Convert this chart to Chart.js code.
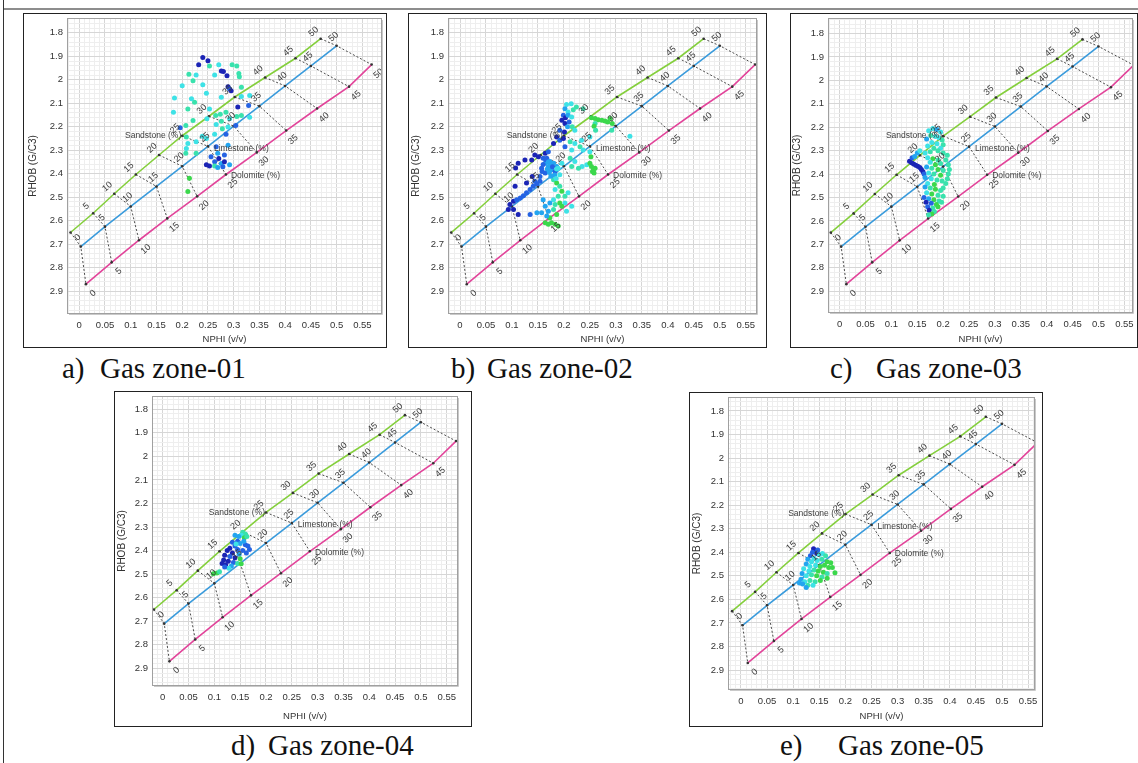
<!DOCTYPE html>
<html>
<head>
<meta charset="utf-8">
<script src="https://cdn.jsdelivr.net/npm/chart.js@4.4.1/dist/chart.umd.min.js"></script>
<style>
  body { margin: 0; width: 1138px; height: 763px; background: #fff; position: relative; overflow: hidden; }
  .rule { position: absolute; }
  .frame { position: absolute; box-sizing: border-box; border: 1px solid #222; background: #fff; overflow: hidden; }
  .frame canvas { position: absolute; left: 0; top: 0; }
  .cap { position: absolute; font-family: "Liberation Serif", "Times New Roman", serif; font-size: 29px; line-height: 29px; color: #111; white-space: nowrap; }
</style>
</head>
<body>
<div class="rule" style="left:3px;top:8px;width:1135px;height:2px;background:#8d8d8d"></div>
<div class="rule" style="left:3px;top:0;width:1px;height:763px;background:#333"></div>
<div id="page"></div>
<script>
// lithology overlay lines (porosity 0..50 %)
const porosityLabels = ['0', '5', '10', '15', '20', '25', '30', '35', '40', '45', '50'];
const sandNphi = [-0.017, 0.027, 0.068, 0.110, 0.155, 0.200, 0.252, 0.302, 0.361, 0.420, 0.469];
const sandRhob = [2.650, 2.568, 2.485, 2.403, 2.320, 2.238, 2.155, 2.073, 1.990, 1.908, 1.825];
const limeNphi = [0.003, 0.050, 0.100, 0.150, 0.200, 0.250, 0.300, 0.350, 0.400, 0.450, 0.500];
const limeRhob = [2.710, 2.625, 2.539, 2.454, 2.368, 2.283, 2.197, 2.112, 2.026, 1.941, 1.855];
const doloNphi = [0.013, 0.063, 0.116, 0.171, 0.229, 0.285, 0.345, 0.402, 0.462, 0.524, 0.568];
const doloRhob = [2.870, 2.777, 2.683, 2.590, 2.496, 2.403, 2.309, 2.216, 2.122, 2.029, 1.935];

// axis ticks
const xTicks = [0, 0.05, 0.1, 0.15, 0.2, 0.25, 0.3, 0.35, 0.4, 0.45, 0.5, 0.55];
const xTickLabels = ['0', '0.05', '0.1', '0.15', '0.2', '0.25', '0.3', '0.35', '0.4', '0.45', '0.5', '0.55'];
const yTicks = [1.8, 1.9, 2, 2.1, 2.2, 2.3, 2.4, 2.5, 2.6, 2.7, 2.8, 2.9];
const yTickLabels = ['1.8', '1.9', '2', '2.1', '2.2', '2.3', '2.4', '2.5', '2.6', '2.7', '2.8', '2.9'];

const captionLetters = ['a)', 'b)', 'c)', 'd)', 'e)'];
const zoneNames = ['Gas zone-01', 'Gas zone-02', 'Gas zone-03', 'Gas zone-04', 'Gas zone-05'];

// point colour classes: 0 dark blue, 1 blue, 2 sky, 3 cyan, 4 aqua, 5 green
const shadeColors = ['#1b24b5', '#2563e3', '#23a5f0', '#3ee2e6', '#39e2ad', '#3bd84c'];

const zone1Nphi = [0.240, 0.250, 0.232, 0.253, 0.271, 0.297, 0.306, 0.276, 0.280, 0.213,
  0.227, 0.263, 0.287, 0.310, 0.311, 0.200, 0.221, 0.240, 0.289, 0.292,
  0.315, 0.295, 0.185, 0.218, 0.247, 0.276, 0.315, 0.331, 0.308, 0.329,
  0.183, 0.211, 0.224, 0.253, 0.265, 0.274, 0.285, 0.306, 0.315, 0.331,
  0.221, 0.248, 0.276, 0.292, 0.304, 0.196, 0.207, 0.266, 0.278, 0.289,
  0.208, 0.211, 0.227, 0.239, 0.247, 0.263, 0.285, 0.207, 0.227, 0.266,
  0.269, 0.256, 0.271, 0.282, 0.263, 0.276, 0.282, 0.253, 0.263, 0.247,
  0.269, 0.279, 0.292, 0.214, 0.211, 0.208, 0.289];
const zone1Rhob = [1.905, 1.919, 1.936, 1.941, 1.936, 1.936, 1.941, 1.962, 1.965, 1.976,
  1.979, 1.979, 1.983, 1.973, 1.987, 2.025, 2.004, 2.021, 2.029, 2.039,
  2.032, 2.046, 2.077, 2.081, 2.057, 2.074, 2.071, 2.067, 2.116, 2.109,
  2.138, 2.124, 2.095, 2.124, 2.152, 2.147, 2.138, 2.156, 2.152, 2.159,
  2.173, 2.166, 2.176, 2.166, 2.194, 2.204, 2.194, 2.190, 2.208, 2.201,
  2.243, 2.271, 2.264, 2.240, 2.250, 2.232, 2.232, 2.313, 2.313, 2.285,
  2.313, 2.327, 2.335, 2.320, 2.349, 2.356, 2.349, 2.367, 2.367, 2.362,
  2.373, 2.370, 2.362, 2.419, 2.475, 2.292, 2.278];
const zone1Shade = [0, 0, 0, 4, 3, 4, 4, 0, 0, 4,
  3, 3, 0, 4, 4, 3, 4, 3, 0, 1,
  4, 0, 3, 3, 3, 3, 3, 3, 0, 1,
  3, 4, 4, 3, 4, 4, 4, 4, 4, 3,
  4, 3, 4, 3, 1, 1, 4, 3, 4, 3,
  4, 3, 3, 3, 3, 3, 1, 4, 4, 1,
  2, 1, 0, 1, 1, 2, 0, 0, 4, 0,
  2, 1, 2, 5, 5, 3, 2];

const zone2Nphi = [0.205, 0.214, 0.202, 0.208, 0.218, 0.224, 0.237, 0.199, 0.203, 0.208,
  0.215, 0.196, 0.202, 0.210, 0.207, 0.216, 0.192, 0.201, 0.221, 0.253,
  0.260, 0.266, 0.273, 0.279, 0.284, 0.289, 0.293, 0.260, 0.258, 0.261,
  0.250, 0.292, 0.327, 0.186, 0.192, 0.199, 0.180, 0.212, 0.221, 0.231,
  0.237, 0.215, 0.202, 0.234, 0.125, 0.112, 0.138, 0.144, 0.151, 0.164,
  0.170, 0.160, 0.167, 0.173, 0.180, 0.186, 0.164, 0.170, 0.176, 0.183,
  0.189, 0.196, 0.192, 0.164, 0.157, 0.154, 0.212, 0.221, 0.235, 0.244,
  0.228, 0.215, 0.250, 0.253, 0.257, 0.260, 0.255, 0.258, 0.252, 0.250,
  0.107, 0.139, 0.128, 0.106, 0.144, 0.103, 0.109, 0.116, 0.122, 0.128,
  0.135, 0.141, 0.148, 0.154, 0.096, 0.103, 0.112, 0.093, 0.180, 0.186,
  0.192, 0.183, 0.196, 0.189, 0.180, 0.173, 0.183, 0.192, 0.202, 0.208,
  0.202, 0.164, 0.170, 0.157, 0.180, 0.186, 0.173, 0.176, 0.170, 0.183,
  0.189, 0.164, 0.196, 0.205, 0.215, 0.167, 0.160, 0.148, 0.135, 0.165,
  0.170, 0.175, 0.168, 0.178, 0.172, 0.182, 0.186, 0.160, 0.158, 0.175, 0.185];
const zone2Rhob = [2.105, 2.102, 2.123, 2.137, 2.127, 2.116, 2.123, 2.151, 2.161, 2.151,
  2.158, 2.172, 2.186, 2.179, 2.200, 2.200, 2.215, 2.222, 2.215, 2.161,
  2.165, 2.170, 2.172, 2.175, 2.179, 2.165, 2.186, 2.186, 2.198, 2.215,
  2.243, 2.215, 2.240, 2.243, 2.257, 2.250, 2.271, 2.264, 2.271, 2.285,
  2.299, 2.299, 2.285, 2.257, 2.341, 2.355, 2.341, 2.320, 2.327, 2.313,
  2.306, 2.334, 2.334, 2.348, 2.355, 2.369, 2.355, 2.369, 2.383, 2.390,
  2.376, 2.355, 2.404, 2.397, 2.376, 2.411, 2.334, 2.348, 2.369, 2.362,
  2.376, 2.369, 2.355, 2.369, 2.383, 2.376, 2.390, 2.397, 2.327, 2.306,
  2.375, 2.411, 2.439, 2.453, 2.432, 2.517, 2.510, 2.503, 2.493, 2.481,
  2.467, 2.453, 2.442, 2.432, 2.531, 2.552, 2.573, 2.552, 2.425, 2.439,
  2.453, 2.467, 2.474, 2.496, 2.510, 2.524, 2.531, 2.524, 2.496, 2.481,
  2.524, 2.538, 2.559, 2.566, 2.552, 2.573, 2.587, 2.608, 2.615, 2.615,
  2.622, 2.608, 2.538, 2.559, 2.538, 2.580, 2.510, 2.566, 2.573, 2.340,
  2.350, 2.360, 2.380, 2.370, 2.395, 2.405, 2.380, 2.360, 2.390, 2.410, 2.420];
const zone2Shade = [3, 3, 2, 3, 4, 4, 4, 1, 0, 2,
  3, 0, 0, 1, 2, 4, 1, 0, 3, 5,
  5, 5, 5, 5, 5, 5, 5, 4, 5, 4,
  3, 4, 3, 0, 1, 0, 0, 4, 3, 4,
  3, 3, 1, 3, 0, 0, 0, 0, 0, 0,
  1, 1, 1, 2, 2, 2, 2, 2, 2, 1,
  3, 3, 3, 1, 1, 1, 4, 3, 3, 3,
  4, 4, 5, 5, 5, 5, 5, 5, 5, 3,
  0, 0, 0, 0, 1, 0, 1, 1, 1, 1,
  1, 1, 1, 1, 0, 0, 0, 0, 4, 5,
  4, 3, 5, 4, 3, 2, 4, 5, 4, 3,
  3, 2, 2, 2, 4, 5, 5, 5, 5, 5,
  5, 5, 5, 3, 3, 2, 2, 2, 1, 1,
  2, 2, 2, 1, 2, 2, 3, 1, 1, 2, 3];

const zone3Nphi = [0.172, 0.180, 0.188, 0.195, 0.176, 0.185, 0.192, 0.168, 0.198, 0.178, 0.188, 0.200, 0.170, 0.182, 0.195,
  0.135, 0.139, 0.143, 0.147, 0.151, 0.155, 0.158, 0.161, 0.163, 0.140, 0.145, 0.150, 0.155,
  0.165, 0.175, 0.190, 0.200, 0.208, 0.205, 0.210, 0.212, 0.210, 0.208, 0.205, 0.200, 0.170, 0.180, 0.190, 0.175, 0.185, 0.195,
  0.168, 0.178, 0.190, 0.200, 0.172, 0.182, 0.195, 0.165, 0.177, 0.188, 0.198, 0.170, 0.183,
  0.165, 0.175, 0.185, 0.195, 0.168, 0.178, 0.190, 0.200, 0.163, 0.172, 0.182, 0.192, 0.167, 0.177, 0.187, 0.197,
  0.170, 0.180, 0.190, 0.173, 0.183, 0.178, 0.172];
const zone3Rhob = [2.215, 2.205, 2.210, 2.220, 2.235, 2.240, 2.245, 2.250, 2.255, 2.265, 2.270, 2.275, 2.280, 2.290, 2.290,
  2.345, 2.352, 2.357, 2.362, 2.367, 2.372, 2.380, 2.390, 2.400, 2.330, 2.325, 2.310, 2.300,
  2.310, 2.305, 2.300, 2.310, 2.320, 2.340, 2.360, 2.380, 2.400, 2.420, 2.440, 2.460, 2.330, 2.335, 2.340, 2.350, 2.360, 2.355,
  2.370, 2.375, 2.380, 2.385, 2.395, 2.400, 2.405, 2.415, 2.420, 2.425, 2.430, 2.440, 2.445,
  2.455, 2.460, 2.465, 2.470, 2.480, 2.485, 2.490, 2.495, 2.500, 2.505, 2.510, 2.515, 2.520, 2.525, 2.530, 2.520,
  2.540, 2.545, 2.540, 2.555, 2.560, 2.570, 2.575];
const zone3Shade = [3, 3, 2, 3, 4, 3, 3, 2, 4, 3, 3, 4, 3, 4, 3,
  0, 0, 0, 0, 0, 0, 0, 0, 1, 1, 2, 2, 3,
  3, 4, 4, 4, 4, 4, 4, 4, 4, 4, 4, 4, 3, 5, 4, 3, 5, 4,
  2, 4, 5, 4, 3, 4, 5, 2, 3, 4, 4, 3, 5,
  2, 4, 5, 4, 3, 5, 4, 4, 1, 2, 5, 4, 0, 1, 5, 4,
  1, 4, 5, 0, 4, 5, 4];

const zone4Nphi = [0.155, 0.160, 0.152, 0.147, 0.140, 0.158, 0.163, 0.145, 0.135, 0.150,
  0.160, 0.165, 0.140, 0.130, 0.145, 0.155, 0.162, 0.125, 0.135, 0.148,
  0.120, 0.130, 0.140, 0.150, 0.118, 0.127, 0.137, 0.122, 0.133, 0.145,
  0.152, 0.128, 0.098, 0.105, 0.110, 0.142, 0.157, 0.168, 0.115, 0.120];
const zone4Rhob = [2.322, 2.330, 2.335, 2.340, 2.335, 2.345, 2.340, 2.360, 2.365, 2.370,
  2.375, 2.380, 2.380, 2.390, 2.395, 2.400, 2.410, 2.400, 2.410, 2.415,
  2.420, 2.425, 2.430, 2.435, 2.440, 2.445, 2.450, 2.460, 2.465, 2.455,
  2.456, 2.475, 2.498, 2.495, 2.490, 2.372, 2.360, 2.395, 2.455, 2.470];
const zone4Shade = [4, 4, 3, 2, 2, 5, 4, 1, 1, 2,
  1, 1, 1, 0, 1, 1, 1, 0, 0, 2,
  0, 1, 0, 5, 0, 0, 1, 0, 2, 4,
  5, 3, 5, 5, 4, 3, 2, 1, 0, 1];

const zone5Nphi = [0.139, 0.142, 0.145, 0.137, 0.147, 0.133, 0.150, 0.156, 0.162, 0.140,
  0.128, 0.135, 0.146, 0.155, 0.165, 0.172, 0.125, 0.132, 0.143, 0.152,
  0.160, 0.168, 0.175, 0.120, 0.130, 0.140, 0.148, 0.158, 0.165, 0.180,
  0.117, 0.125, 0.135, 0.145, 0.155, 0.165, 0.115, 0.122, 0.132, 0.142,
  0.152, 0.118, 0.128, 0.138, 0.112, 0.125];
const zone5Rhob = [2.385, 2.395, 2.405, 2.400, 2.390, 2.415, 2.410, 2.405, 2.415, 2.425,
  2.430, 2.440, 2.435, 2.430, 2.440, 2.445, 2.450, 2.460, 2.455, 2.460,
  2.455, 2.465, 2.465, 2.470, 2.480, 2.475, 2.480, 2.485, 2.490, 2.487,
  2.490, 2.500, 2.495, 2.500, 2.505, 2.510, 2.515, 2.525, 2.520, 2.525,
  2.520, 2.535, 2.540, 2.540, 2.530, 2.550];
const zone5Shade = [0, 0, 0, 1, 1, 1, 3, 3, 4, 3,
  2, 3, 3, 4, 5, 5, 2, 3, 3, 5,
  5, 5, 5, 3, 3, 4, 5, 5, 4, 5,
  2, 3, 4, 5, 4, 5, 2, 3, 4, 4,
  5, 2, 4, 3, 2, 2];

const zones = [
  { nphi: zone1Nphi, rhob: zone1Rhob, shade: zone1Shade },
  { nphi: zone2Nphi, rhob: zone2Rhob, shade: zone2Shade },
  { nphi: zone3Nphi, rhob: zone3Rhob, shade: zone3Shade },
  { nphi: zone4Nphi, rhob: zone4Rhob, shade: zone4Shade },
  { nphi: zone5Nphi, rhob: zone5Rhob, shade: zone5Shade }
];

// page layout: frame [left, top, width, height], plot area inside canvas [left, top, right, bottom]
const panelLayout = [
  { frame: [23, 13, 364, 335], plot: [43, 1, 359, 300], xRange: [-0.0238, 0.5881], yRange: [1.7367, 2.997], yTitlePad: 3, xTitlePad: 1.5, caption: [62, 100, 354] },
  { frame: [408, 13, 359, 335], plot: [39, 1, 348, 300], xRange: [-0.0231, 0.5716], yRange: [1.7368, 2.9968], yTitlePad: 1.5, xTitlePad: 1.5, caption: [451, 487, 354] },
  { frame: [790, 13, 348, 335], plot: [37, 1, 344, 299], xRange: [-0.0224, 0.5666], yRange: [1.7336, 2.9932], yTitlePad: 0, xTitlePad: 1.5, caption: [830, 876, 354] },
  { frame: [114, 391, 358, 336], plot: [37, 3, 343, 294], xRange: [-0.0207, 0.5718], yRange: [1.7437, 2.9747], yTitlePad: 1, xTitlePad: 4, caption: [231, 268, 731] },
  { frame: [689, 392, 354, 335], plot: [38, 2, 345, 297], xRange: [-0.0249, 0.5632], yRange: [1.741, 2.9847], yTitlePad: 1, xTitlePad: 4, caption: [780, 838, 731] }
];

const lithologies = [
  { name: 'Sandstone (%)', nphi: sandNphi, rhob: sandRhob, color: '#84cf3c', dx: -7, dy: -7, nameAt: 5, nameAlign: 'right', ndx: -1, ndy: 0 },
  { name: 'Limestone (%)', nphi: limeNphi, rhob: limeRhob, color: '#3a9bdc', dx: -3, dy: -9, nameAt: 5, nameAlign: 'left', ndx: 6, ndy: 2 },
  { name: 'Dolomite (%)', nphi: doloNphi, rhob: doloRhob, color: '#e2449a', dx: 7, dy: 9, nameAt: 5, nameAlign: 'left', ndx: 5, ndy: 1 }
];

Chart.defaults.font.family = '"Liberation Sans", Arial, sans-serif';
Chart.defaults.color = '#333';

function tickBuilder(majors, step) {
  return scale => {
    const out = [];
    const n0 = Math.ceil(scale.min / step - 1e-9);
    const n1 = Math.floor(scale.max / step + 1e-9);
    for (let n = n0; n <= n1; n++) {
      const v = +(n * step).toFixed(4);
      out.push({ value: v, major: majors.indexOf(v) >= 0 });
    }
    scale.ticks = out;
  };
}

const overlayText = {
  id: 'overlayText',
  afterDatasetsDraw(chart) {
    const { ctx, chartArea: a, scales: { x, y } } = chart;
    ctx.save();
    ctx.beginPath();
    ctx.rect(a.left, a.top, a.right - a.left, a.bottom - a.top);
    ctx.clip();
    ctx.fillStyle = '#3c3c3c';
    lithologies.forEach(l => {
      ctx.font = '9px "Liberation Sans", Arial, sans-serif';
      ctx.textAlign = 'center';
      ctx.textBaseline = 'middle';
      porosityLabels.forEach((t, i) => {
        ctx.save();
        ctx.translate(x.getPixelForValue(l.nphi[i]) + l.dx, y.getPixelForValue(l.rhob[i]) + l.dy);
        ctx.rotate(-0.72);
        ctx.fillText(t, 0, 0);
        ctx.restore();
      });
      ctx.font = '8.5px "Liberation Sans", Arial, sans-serif';
      ctx.textAlign = l.nameAlign;
      ctx.fillText(l.name, x.getPixelForValue(l.nphi[l.nameAt]) + l.ndx, y.getPixelForValue(l.rhob[l.nameAt]) + l.ndy);
    });
    ctx.restore();
  },
  afterDraw(chart) {
    const { ctx, chartArea: a } = chart;
    ctx.save();
    ctx.strokeStyle = '#a0a0a0';
    ctx.lineWidth = 1;
    ctx.strokeRect(a.left + 0.5, a.top + 0.5, a.right - a.left - 1, a.bottom - a.top - 1);
    ctx.strokeStyle = '#c9c9c9';
    ctx.beginPath();
    ctx.moveTo(a.right + 0.5, a.top + 2);
    ctx.lineTo(a.right + 0.5, a.bottom + 0.5);
    ctx.lineTo(a.left + 2, a.bottom + 0.5);
    ctx.stroke();
    ctx.restore();
  }
};

function buildPanel(p, zone, k) {
  const page = document.getElementById('page');
  const [fl, ft, fw, fh] = p.frame;
  const frame = document.createElement('div');
  frame.className = 'frame';
  frame.style.cssText = `left:${fl}px;top:${ft}px;width:${fw}px;height:${fh}px`;
  const canvas = document.createElement('canvas');
  const cw = fw - 2, ch = fh - 2;
  canvas.width = cw;
  canvas.height = ch;
  frame.appendChild(canvas);
  page.appendChild(frame);

  ['letter', 'name'].forEach((part, j) => {
    const c = document.createElement('div');
    c.className = 'cap';
    c.style.left = p.caption[j] + 'px';
    c.style.top = p.caption[2] + 'px';
    c.textContent = j === 0 ? captionLetters[k] : zoneNames[k];
    page.appendChild(c);
  });

  const [pl, pt, pr, pb] = p.plot;

  const datasets = [{
    data: zone.nphi.map((v, i) => ({ x: v, y: zone.rhob[i] })),
    pointRadius: 2.5,
    pointBorderWidth: 0,
    pointBackgroundColor: zone.shade.map(s => shadeColors[s]),
    showLine: false
  }];
  lithologies.forEach(l => {
    datasets.push({
      data: l.nphi.map((v, i) => ({ x: v, y: l.rhob[i] })),
      showLine: true,
      borderColor: l.color,
      borderWidth: 1.6,
      pointRadius: 1.3,
      pointBorderWidth: 0,
      pointBackgroundColor: '#333'
    });
  });
  porosityLabels.forEach((t, i) => {
    datasets.push({
      data: lithologies.map(l => ({ x: l.nphi[i], y: l.rhob[i] })),
      showLine: true,
      borderColor: '#4a4a4a',
      borderWidth: 1,
      borderDash: [2, 2],
      pointRadius: 0
    });
  });

  new Chart(canvas, {
    type: 'scatter',
    data: { datasets },
    plugins: [overlayText],
    options: {
      responsive: false,
      animation: false,
      devicePixelRatio: 1,
      events: [],
      layout: { padding: { top: pt, right: cw - pr, left: 0, bottom: 0 } },
      plugins: { legend: { display: false }, tooltip: { enabled: false } },
      scales: {
        x: {
          type: 'linear',
          min: p.xRange[0],
          max: p.xRange[1],
          afterBuildTicks: tickBuilder(xTicks, 0.01),
          afterFit: s => { s.height = ch - pb; s.paddingLeft = 0; s.paddingRight = 0; },
          ticks: {
            autoSkip: false, maxRotation: 0, minRotation: 0, padding: 6,
            font: { size: 9.5 }, color: '#333',
            callback: (v, i, ticks) => ticks[i].major ? xTickLabels[xTicks.indexOf(v)] : ''
          },
          grid: { drawTicks: false, color: c => (c.tick && c.tick.major) ? '#d6d6d6' : '#eeeeee', lineWidth: 1 },
          border: { display: false },
          title: { display: true, text: 'NPHI (v/v)', font: { size: 9.5 }, color: '#333', padding: { top: 0, bottom: p.xTitlePad } }
        },
        y: {
          type: 'linear',
          reverse: true,
          min: p.yRange[0],
          max: p.yRange[1],
          afterBuildTicks: tickBuilder(yTicks, 0.02),
          afterFit: s => { s.width = pl; s.paddingTop = 0; s.paddingBottom = 0; },
          ticks: {
            autoSkip: false, padding: 4,
            font: { size: 9.5 }, color: '#333',
            callback: (v, i, ticks) => ticks[i].major ? yTickLabels[yTicks.indexOf(v)] : ''
          },
          grid: { drawTicks: false, color: c => (c.tick && c.tick.major) ? '#d6d6d6' : '#eeeeee', lineWidth: 1 },
          border: { display: false },
          title: { display: true, text: 'RHOB (G/C3)', font: { size: 10 }, color: '#333', padding: { top: p.yTitlePad, bottom: 0 } }
        }
      }
    }
  });
}

document.addEventListener('DOMContentLoaded', function () {
  try {
    panelLayout.forEach((p, k) => buildPanel(p, zones[k], k));
  } catch (err) {
    console.error('Chart build error:', err);
  }
});
</script>
</body>
</html>
